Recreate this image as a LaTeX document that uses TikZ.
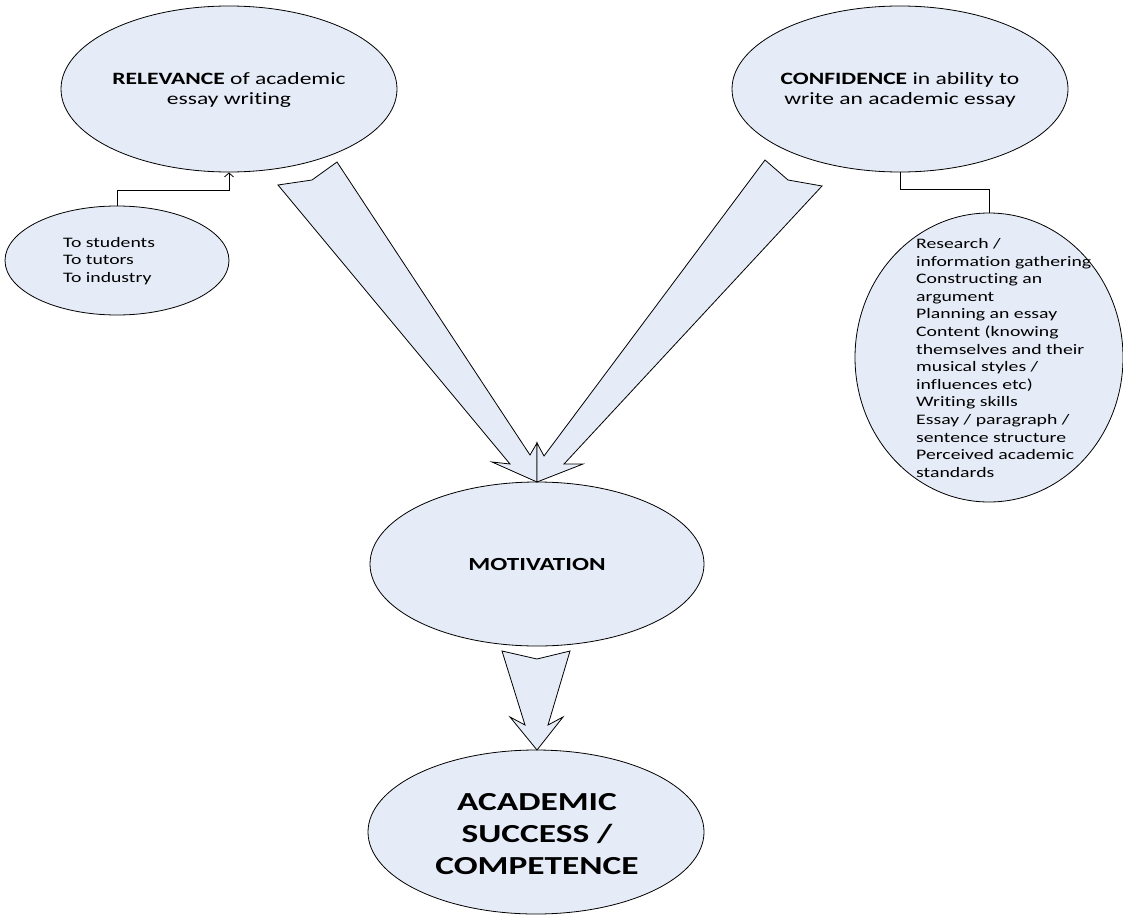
\documentclass[tikz,border=0pt]{standalone}
\usepackage{fontspec}
\setmainfont{Carlito}[FakeStretch=1.36, Ligatures=NoCommon]
\usetikzlibrary{shapes.geometric,arrows.meta}
\definecolor{bubfill}{RGB}{230,236,247}
\tikzset{
  bub/.style={ellipse, draw=black, fill=bubfill, line width=0.8pt, inner sep=0pt},
  bigarrow/.style={draw=black, fill=bubfill, line width=0.8pt, line join=miter},
  conn/.style={draw=black, line width=0.8pt},
  txt/.style={inner sep=0pt, text=black},
  normtxt/.style={txt, font=\fontsize{17.3}{20.7}\selectfont, align=center},
  smalltxt/.style={txt, font=\fontsize{14.5}{17.6}\selectfont, align=left},
}
\begin{document}
\begin{tikzpicture}[x=1pt, y=-1pt]
\useasboundingbox (0,0) rectangle (1123,915);
\fill[white] (0,0) rectangle (1123,915);

% ellipses
\node[bub, minimum width=336pt, minimum height=166pt] (rel) at (229,89) {};
\node[bub, minimum width=336pt, minimum height=166pt] (conf) at (900,89) {};
\node[bub, minimum width=224pt, minimum height=109pt] (aud) at (117,260.5) {};
\node[bub, minimum width=268pt, minimum height=289pt] (skills) at (989,357.5) {};
\node[bub, minimum width=334pt, minimum height=164pt] (mot) at (537,564) {};
\node[bub, minimum width=336pt, minimum height=164pt] (succ) at (536,832) {};

% texts
\node[normtxt] (reltxt) at (229,90) {\textbf{RELEVANCE} of academic\\essay writing};
\node[normtxt] (conftxt) at (900,90) {\textbf{CONFIDENCE} in ability to\\write an academic essay};
\node[smalltxt, anchor=west] (audtxt) at (63,261) {To students\\To tutors\\To industry};
\node[smalltxt, anchor=west] (skilltxt) at (916,358) {Research /\\information gathering\\Constructing an\\argument\\Planning an essay\\Content (knowing\\themselves and their\\musical styles /\\influences etc)\\Writing skills\\Essay / paragraph /\\sentence structure\\Perceived academic\\standards};
\node[txt, font=\fontsize{18.5}{22}\selectfont\bfseries] (mottxt) at (537,564) {MOTIVATION};
\node[txt, font=\fontsize{26}{31.7}\selectfont\bfseries, align=center] (succtxt) at (537,834) {ACADEMIC\\SUCCESS /\\COMPETENCE};

% connectors
\draw[conn, -{Straight Barb[length=4pt,width=9pt]}] (aud.north) -- ++(0,-15.5) -| (rel.south);
\draw[conn] (conf.south) -- ++(0,17) -| (skills.north);

% block arrows
\path[bigarrow] (278,185) -- (510,464) -- (492,462) -- (537,482) -- (537,443) -- (530,455) -- (337,162) -- (312,180) -- cycle;
\path[bigarrow] (822,186) -- (564,464) -- (583,464) -- (537,482) -- (537,443) -- (544,456) -- (765,160) -- (788,180) -- cycle;
\path[bigarrow] (502,651) -- (525,725) -- (510,717) -- (537,750) -- (563,717) -- (548,725) -- (570,651) -- (537,659) -- cycle;
\end{tikzpicture}
\end{document}
